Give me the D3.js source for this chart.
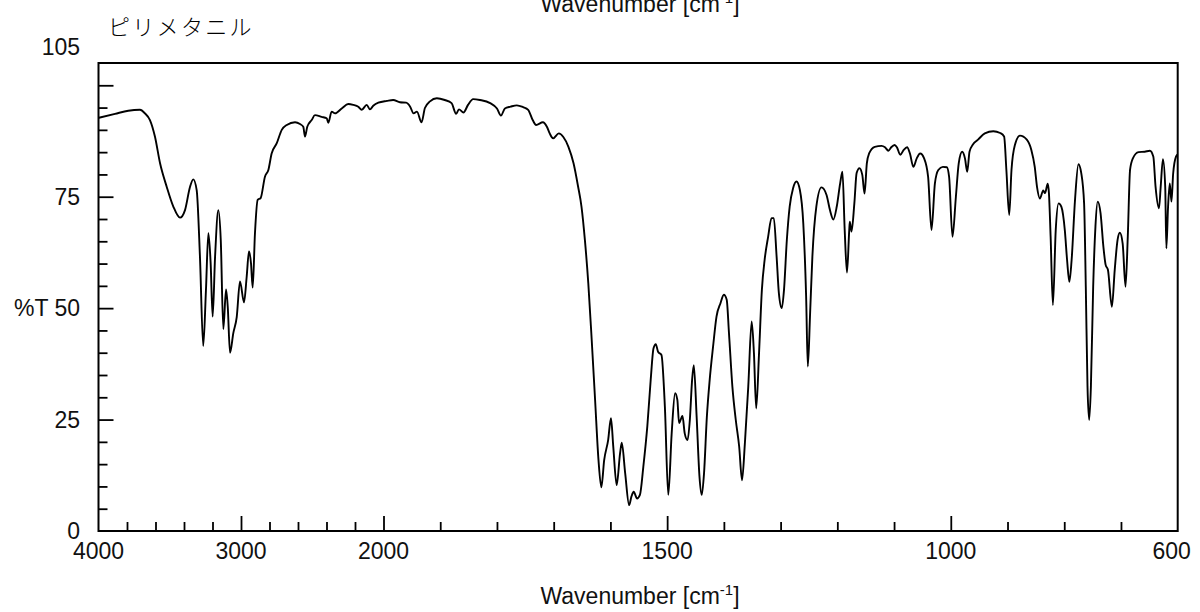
<!DOCTYPE html>
<html><head><meta charset="utf-8">
<script src="https://cdn.jsdelivr.net/npm/d3@7"></script>
<style>body{margin:0;background:#fff}svg{display:block}</style>
</head><body><svg id="c" width="1200" height="612"></svg>
<script>
const wavenumber = [
4000,3884,3791,3709,3674,3639,3604,3568,3521,3475,3428,3393,3358,3335,3311,3288,3265,3246,3229,3213,3199,3182,3159,3142,3124,3105,3093,3077,3054,3030,3007,2979,2960,2944,2930,2918,2902,2883,2862,2832,2808,2785,2749,2714,2679,2621,2586,2563,2551,2535,2504,2481,2434,2399,2387,2364,2340,2293,2247,2212,2177,2153,2118,2095,2072,2036,
1994,1983,1971,1960,1953,1947,1941,1933,1927,1918,1906,1892,1880,1872,1867,1859,1851,1842,1830,1812,1800,1793,1786,1776,1765,1754,1745,1737,1731,1719,1712,1707,1701,1691,1683,
1674,1665,1657,1651,1645,1639,1633,1627,1621,1616,1611,1604,1599,1595,1589,1583,1580,1574,1567,1563,1559,1553,1548,1542,1535,1529,1524,1520,1516,1510,1504,1498,1492,1486,1482,1479,1473,1469,1464,1460,1456,1453,1448,1443,1439,1435,1430,1425,1419,1413,1406,1400,1395,1391,1385,1379,1373,1368,1363,1357,1351,1347,1343,1338,1333,1328,1322,1316,1312,1307,1303,1298,1294,1289,1284,1278,1272,1266,1260,1255,1252,1248,1244,1237,1228,1219,1213,1207,1201,1195,1191,1187,1183,1179,1178,1175,1170,1166,1161,1156,1152,1148,1144,1134,1122,1116,1110,1105,1099,1095,1089,1083,1077,1072,1066,1060,1054,1047,1040,1034,1028,1022,1014,1007,1003,997,991,986,980,975,971,967,961,952,940,925,913,906,902,897,893,887,878,866,858,852,848,843,837,834,829,827,824,820,815,810,805,799,795,791,787,781,775,770,765,762,759,756,753,749,745,741,736,731,727,723,716,711,706,702,697,692,688,684,679,669,658,649,643,639,633,630,626,622,620,617,614,611,608,603,600
];
const transmittance = [
92.7,93.6,94.3,94.5,93.7,92.2,88.5,82.5,77.2,72.8,70.3,72.0,77.2,78.9,76.5,61.5,41.5,54.0,66.8,60.1,48.1,61.5,72.0,65.3,45.3,54.2,50.3,40.0,44.4,48.0,56.0,51.3,57.1,62.7,60.1,54.6,66.8,74.3,74.7,79.5,81.0,84.7,87.0,90.0,91.1,91.7,91.3,90.7,88.5,90.7,92.2,93.3,92.9,92.6,91.6,94.1,93.7,94.8,95.8,95.6,95.2,94.5,95.6,94.6,95.4,96.1,
96.5,96.7,96.2,96.1,95.2,93.7,94.1,91.7,94.9,96.4,97.1,96.7,96.0,93.6,94.6,93.9,95.6,96.9,96.7,96.0,94.8,93.2,94.8,95.2,95.5,95.1,94.5,92.2,91.1,91.7,90.7,89.2,88.1,89.2,88.4,
86.2,82.5,77.3,72.8,65.3,55.6,42.9,29.4,15.9,9.8,15.9,20.4,25.3,19.0,10.3,17.4,19.8,13.0,5.8,7.7,8.8,7.3,8.1,14.4,23.4,33.9,41.0,41.9,40.2,39.5,27.9,8.1,21.9,30.9,29.4,24.2,25.8,21.9,20.4,24.9,33.9,37.2,25.6,12.2,8.1,12.9,25.6,33.9,41.4,48.1,51.1,53.0,51.9,44.4,32.4,24.9,18.9,11.4,19.6,32.4,47.0,39.9,27.5,39.9,54.1,61.0,66.0,70.2,70.2,61.5,53.3,50.0,54.1,65.3,72.8,76.9,78.4,76.5,69.0,52.6,36.9,48.8,61.5,72.8,77.1,75.4,72.0,69.9,72.8,78.0,80.6,67.5,58.0,67.5,69.4,67.2,73.5,80.3,81.4,79.9,75.7,82.5,84.7,86.2,86.4,86.1,85.3,86.1,86.6,86.1,84.4,85.5,86.1,84.7,81.7,83.6,84.7,83.6,79.5,67.5,78.0,81.0,81.7,81.6,79.5,66.0,75.0,82.5,85.1,83.6,80.6,85.1,86.7,87.8,89.2,89.7,89.3,88.5,81.0,70.9,81.0,86.6,88.7,87.8,85.5,81.7,77.2,74.6,76.4,75.8,77.9,75.8,66.0,50.7,67.5,73.5,72.7,67.5,60.8,55.9,60.8,74.3,82.3,80.3,73.5,54.8,32.4,24.9,32.4,54.8,68.3,73.9,71.3,63.8,59.7,58.6,50.3,58.6,65.3,66.9,64.5,54.8,66.0,81.0,83.6,85.0,85.1,85.3,84.0,77.2,72.4,77.2,83.4,77.2,63.4,72.7,78.0,73.9,80.2,84.0,84.5
];
const xLabelValues = [4000, 3000, 2000, 1500, 1000, 600];
const xLabelShift = [0, 0, 0, 0, 0, -6];
const yLabelValues = [0, 25, 50, 75, 105];
const yLabelTexts = ["0", "25", "%T 50", "75", "105"];
const chartTitle = "ピリメタニル";
const axisTitleMain = "Wavenumber [cm";
const axisTitleSup = "-1";
const axisTitleEnd = "]";

const L = 98.5, R = 1177.7, T = 63, B = 531;
const svg = d3.select("#c");
const x = d3.scaleLinear().domain([4000, 2000, 600]).range([L, 383.5, R]);
const y = d3.scaleLinear().domain([0, 105]).range([B, T]);

const xMinor = d3.range(3800, 2000, -200).concat(d3.range(1900, 600, -100)).filter(v => ![3000,1500,1000].includes(v));
const xMajor = [3000, 2000, 1500, 1000];
const yMinor = d3.range(5, 105, 5).filter(v => v % 25 !== 0);
const yMajor = [25, 50, 75, 100];

const font = "'Liberation Sans', Arial, sans-serif";

const gx1 = svg.append("g").attr("transform", `translate(0,${B})`)
  .call(d3.axisBottom(x).tickValues(xMinor).tickSize(-9).tickFormat(""));
const gx2 = svg.append("g").attr("transform", `translate(0,${B})`)
  .call(d3.axisBottom(x).tickValues(xMajor).tickSize(-15).tickFormat(""));
const gy1 = svg.append("g").attr("transform", `translate(${L},0)`)
  .call(d3.axisLeft(y).tickValues(yMinor).tickSize(-9).tickFormat(""));
const gy2 = svg.append("g").attr("transform", `translate(${L},0)`)
  .call(d3.axisLeft(y).tickValues(yMajor).tickSize(-15).tickFormat(""));
[gx1, gx2, gy1, gy2].forEach(g => {
  g.select(".domain").remove();
  g.selectAll("line").attr("stroke", "#000").attr("stroke-width", 1.8);
});

svg.append("clipPath").attr("id", "clip").append("rect")
  .attr("x", L).attr("y", T).attr("width", R - L).attr("height", B - T);
const pts = wavenumber.map((w, i) => [w, transmittance[i]]);
svg.append("path").datum(pts)
  .attr("clip-path", "url(#clip)")
  .attr("fill", "none").attr("stroke", "#000").attr("stroke-width", 1.9)
  .attr("stroke-linejoin", "round")
  .attr("d", d3.line().x(d => x(d[0])).y(d => y(d[1])).curve(d3.curveMonotoneX));

svg.append("rect").attr("x", L).attr("y", T).attr("width", R - L).attr("height", B - T)
  .attr("fill", "none").attr("stroke", "#000").attr("stroke-width", 2);

svg.selectAll(".xl").data(xLabelValues).enter().append("text")
  .attr("x", (d, i) => x(d) + xLabelShift[i]).attr("y", 559)
  .attr("text-anchor", "middle").attr("font-family", font).attr("font-size", 23)
  .attr("fill", "#111").text(d => d);

svg.selectAll(".yl").data(yLabelValues).enter().append("text")
  .attr("x", 80).attr("y", d => d === 105 ? 47 : y(d))
  .attr("dy", "0.36em")
  .attr("text-anchor", "end").attr("font-family", font).attr("font-size", 23)
  .attr("fill", "#111").text((d, i) => yLabelTexts[i]);

function axisTitle(baseY) {
  const t = svg.append("text").attr("x", 640).attr("y", baseY)
    .attr("text-anchor", "middle").attr("font-family", font).attr("font-size", 23).attr("fill", "#111");
  t.append("tspan").text(axisTitleMain);
  t.append("tspan").attr("font-size", 15).attr("dy", -9).text(axisTitleSup);
  t.append("tspan").attr("dy", 9).text(axisTitleEnd);
}
axisTitle(604);
axisTitle(12);

svg.append("text").attr("x", 108).attr("y", 25).attr("dominant-baseline", "central")
  .attr("font-family", "'Noto Sans CJK JP', sans-serif").attr("font-weight", 300)
  .attr("font-size", 22).attr("letter-spacing", 2.3).attr("fill", "#000")
  .text(chartTitle);
</script></body></html>
